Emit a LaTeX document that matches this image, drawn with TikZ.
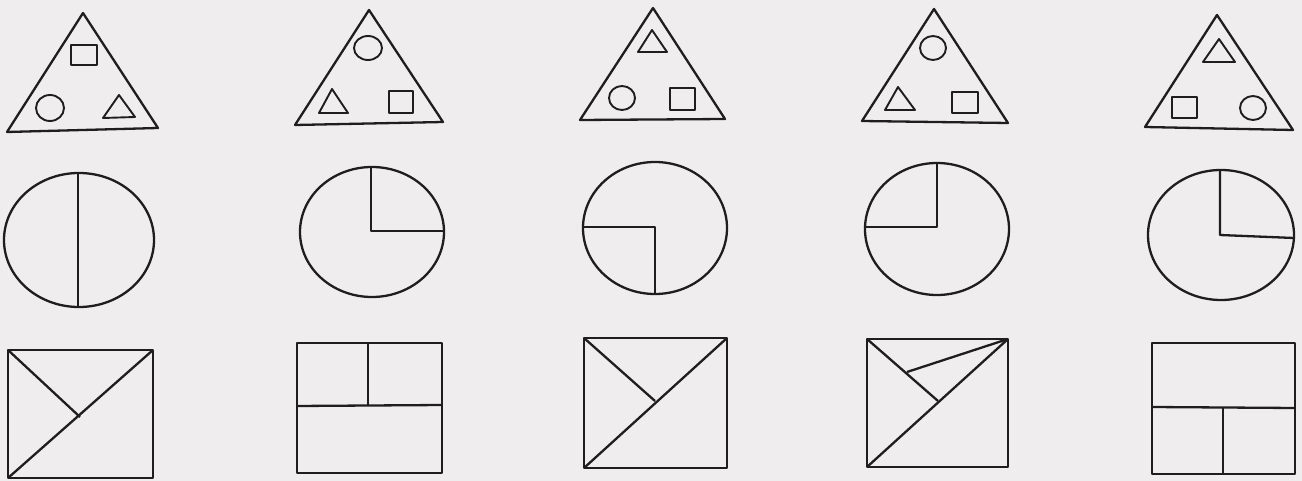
\documentclass[tikz,border=0pt]{standalone}
\definecolor{Paper}{RGB}{240, 237, 238}
\definecolor{Ink}{RGB}{30, 30, 30}
\begin{document}
\begin{tikzpicture}[x=1pt, y=-1pt, line join=round,
    figure/.style={draw=Ink, line width=2.3pt},
    inner/.style={draw=Ink, line width=1.9pt}]
    \fill[Paper] (0,0) rectangle (1302,481);
    % row 1: triangles with three small figures
    \draw[figure] (83,13) -- (7,132) -- (158,128) -- cycle;
    \draw[inner] (71,45) rectangle (97,65);
    \draw[inner] (50,108) ellipse [x radius=14, y radius=13];
    \draw[inner] (119,95) -- (103,118) -- (135,117) -- cycle;

    \draw[figure] (369,10) -- (295,125) -- (443,122) -- cycle;
    \draw[inner] (368,48) ellipse [x radius=14, y radius=12];
    \draw[inner] (332,89) -- (319,113) -- (348,113) -- cycle;
    \draw[inner] (389,91) rectangle (413,113);

    \draw[figure] (653,8) -- (580,120) -- (725,119) -- cycle;
    \draw[inner] (652,30) -- (638,52) -- (667,52) -- cycle;
    \draw[inner] (622,98) ellipse [x radius=13, y radius=12];
    \draw[inner] (670,88) rectangle (695,110);

    \draw[figure] (934,9) -- (862,121) -- (1008,123) -- cycle;
    \draw[inner] (933,48) ellipse [x radius=13, y radius=12];
    \draw[inner] (898,87) -- (885,110) -- (915,110) -- cycle;
    \draw[inner] (952,92) rectangle (978,113);

    \draw[figure] (1217,15) -- (1145,127) -- (1293,130) -- cycle;
    \draw[inner] (1219,39) -- (1203,62) -- (1235,62) -- cycle;
    \draw[inner] (1172,97) rectangle (1197,118);
    \draw[inner] (1253,108) ellipse [x radius=13, y radius=12];

    % row 2: circles with radii
    \coordinate (c1) at (79,240);
    \draw[figure] (c1) ellipse [x radius=75, y radius=67];
    \draw[figure] (78,173) -- (78,306);

    \coordinate (c2) at (372,232);
    \draw[figure] (c2) ellipse [x radius=72, y radius=65];
    \draw[figure] (371,167) -- (371,231) -- (444,231);

    \coordinate (c3) at (655,228);
    \draw[figure] (c3) ellipse [x radius=72, y radius=66];
    \draw[figure] (583,227) -- (655,227) -- (655,293);

    \coordinate (c4) at (937,229);
    \draw[figure] (c4) ellipse [x radius=72, y radius=66];
    \draw[figure] (865,227) -- (937,227) -- (937,163);

    \coordinate (c5) at (1221,235);
    \draw[figure] (c5) ellipse [x radius=73, y radius=65];
    \draw[figure] (1220,170) -- (1220,235) -- (1294,238);

    % row 3: rectangles cut by lines
    \draw[figure] (8,350) rectangle (153,478);
    \draw[figure] (8,478) -- (153,350);
    \draw[figure] (8,350) -- (80,417);

    \draw[figure] (297,343) rectangle (442,473);
    \draw[figure] (297,406) -- (442,405);
    \draw[figure] (368,343) -- (368,406);

    \draw[figure] (584,338) rectangle (727,468);
    \draw[figure] (584,468) -- (727,338);
    \draw[figure] (584,338) -- (655,401);

    \draw[figure] (867,339) rectangle (1008,467);
    \draw[figure] (867,467) -- (1008,339);
    \draw[figure] (867,339) -- (938,401);
    \draw[figure] (907,372) -- (1008,339);

    \draw[figure] (1152,343) rectangle (1295,474);
    \draw[figure] (1152,407) -- (1295,408);
    \draw[figure] (1223,407) -- (1223,474);
\end{tikzpicture}
\end{document}
